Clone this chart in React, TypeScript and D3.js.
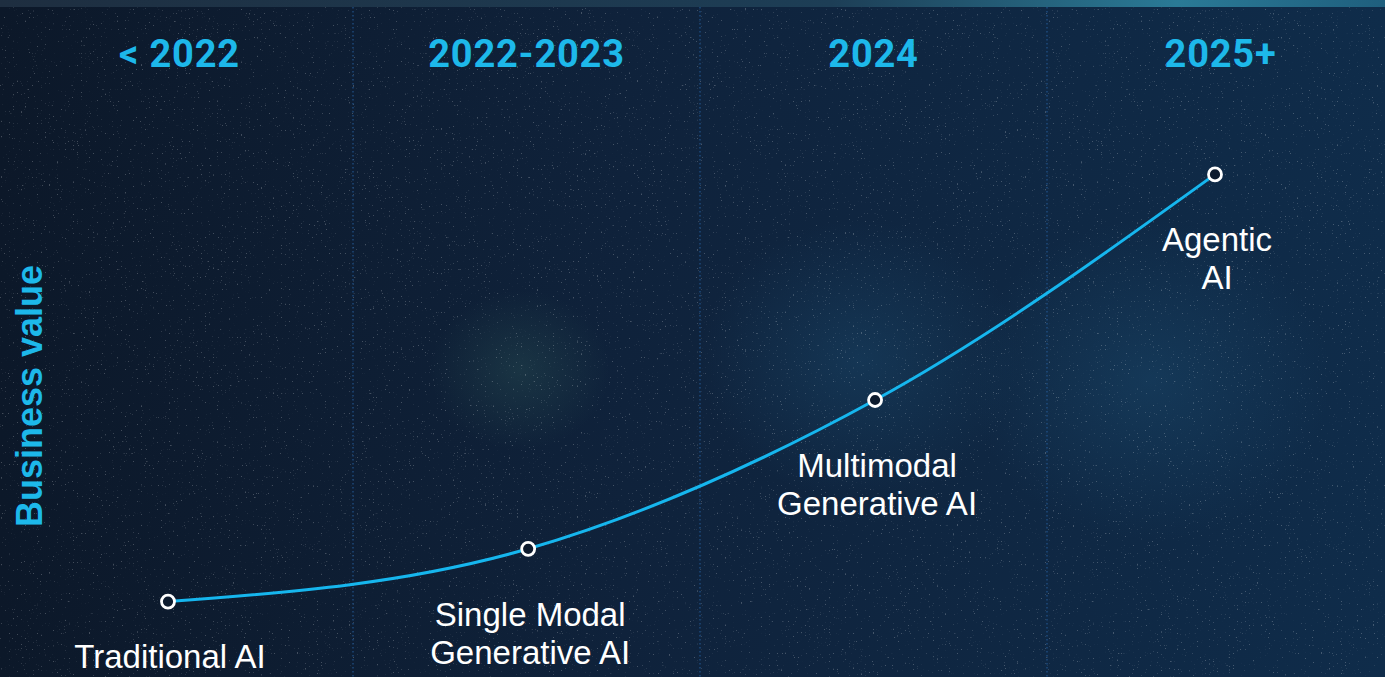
import { useMemo } from 'react';
import * as d3 from 'd3';

// Timeline columns
const eras = ['< 2022', '2022-2023', '2024', '2025+'];

// AI stages along the curve
const stages = ['Traditional AI', 'Single Modal Generative AI', 'Multimodal Generative AI', 'Agentic AI'];
const stageLines = [['Traditional AI'], ['Single Modal', 'Generative AI'], ['Multimodal', 'Generative AI'], ['Agentic', 'AI']];
const timelinePos = [0, 1.032, 2.026, 3];
const businessValue = [8, 19, 50, 97];

const W = 1385;
const H = 677;
const BLUE = '#1db8ea';
const LINE = '#16b6ee';
const LINE_GAP = 38;

export default function App() {
  const band = useMemo(() => d3.scaleBand<string>().domain(eras).range([6, 1394]).padding(0), []);
  const x = useMemo(() => d3.scaleLinear().domain([0, 3]).range([168, 1215]), []);
  const y = useMemo(() => d3.scaleLinear().domain([0, 100]).range([640, 160]), []);

  const pts = stages.map((s, i) => ({ name: s, lines: stageLines[i], x: x(timelinePos[i]), y: y(businessValue[i]) }));
  const path = d3.line<{ x: number; y: number }>()
    .x(d => d.x)
    .y(d => d.y)
    .curve(d3.curveMonotoneX)(pts) || '';

  return (
    <svg
      width={W}
      height={H}
      viewBox={`0 0 ${W} ${H}`}
      style={{ position: 'fixed', left: 0, top: 0, display: 'block' }}
    >
      <defs>
        <linearGradient id="bg" x1="0" y1="0" x2="1" y2="0">
          <stop offset="0" stopColor="#0c1829" />
          <stop offset="0.45" stopColor="#0f223b" />
          <stop offset="1" stopColor="#0f2c4a" />
        </linearGradient>
        <radialGradient id="glowA" cx="0.5" cy="0.5" r="0.5">
          <stop offset="0" stopColor="#2f5a5a" stopOpacity="0.35" />
          <stop offset="1" stopColor="#2f5a5a" stopOpacity="0" />
        </radialGradient>
        <radialGradient id="glowB" cx="0.5" cy="0.5" r="0.5">
          <stop offset="0" stopColor="#1d4f73" stopOpacity="0.4" />
          <stop offset="1" stopColor="#1d4f73" stopOpacity="0" />
        </radialGradient>
        <linearGradient id="topStrip" x1="0" y1="0" x2="1" y2="0">
          <stop offset="0" stopColor="#1e2e40" />
          <stop offset="0.6" stopColor="#1d3e56" />
          <stop offset="0.85" stopColor="#2a7a96" />
          <stop offset="1" stopColor="#1f5f7e" />
        </linearGradient>
        <filter id="stars" x="0" y="0" width="100%" height="100%">
          <feTurbulence type="fractalNoise" baseFrequency="0.75" numOctaves="1" seed="7" />
          <feColorMatrix
            type="matrix"
            values="0 0 0 0 1  0 0 0 0 1  0 0 0 0 1  14 0 0 0 -9.6"
          />
        </filter>
      </defs>

      <rect width={W} height={H} fill="url(#bg)" />
      <ellipse cx={520} cy={370} rx={90} ry={80} fill="url(#glowA)" />
      <ellipse cx={860} cy={360} rx={160} ry={140} fill="url(#glowB)" />
      <ellipse cx={1150} cy={380} rx={180} ry={160} fill="url(#glowB)" />
      <rect width={W} height={H} filter="url(#stars)" opacity={0.22} />
      <rect width={W} height={7} fill="url(#topStrip)" />

      {/* Column dividers */}
      {eras.slice(1).map(e => (
        <line
          key={e}
          x1={band(e)!}
          x2={band(e)!}
          y1={7}
          y2={H}
          stroke="#245893"
          strokeWidth={1.2}
          strokeDasharray="1.5 2.5"
          opacity={0.9}
        />
      ))}

      {/* Column headers */}
      {eras.map(e => (
        <text
          key={e}
          x={band(e)! + band.bandwidth() / 2}
          y={67}
          textAnchor="middle"
          fill={BLUE}
          fontFamily="Roboto, 'Liberation Sans', sans-serif"
          fontWeight={700}
          fontSize={38}
          letterSpacing={0.8}
        >
          {e}
        </text>
      ))}

      {/* Y axis title */}
      <text
        transform={`translate(42, 396) rotate(-90)`}
        textAnchor="middle"
        fill={BLUE}
        fontFamily="'Liberation Sans', Arial, sans-serif"
        fontWeight={700}
        fontSize={36}
      >
        Business value
      </text>

      {/* Curve */}
      <path d={path} fill="none" stroke={LINE} strokeWidth={3} />

      {pts.map(p => {
        const base = Math.min(p.y + 77, H - 9 - (p.lines.length - 1) * LINE_GAP);
        return (
          <g key={p.name}>
            <circle cx={p.x} cy={p.y} r={6.5} fill="#0d1b2e" stroke="#ffffff" strokeWidth={2.8} />
            {p.lines.map((l, j) => (
              <text
                key={l}
                x={p.x + 2}
                y={base + j * LINE_GAP}
                textAnchor="middle"
                fill="#ffffff"
                fontFamily="'Liberation Sans', Arial, sans-serif"
                fontSize={33}
              >
                {l}
              </text>
            ))}
          </g>
        );
      })}
    </svg>
  );
}
